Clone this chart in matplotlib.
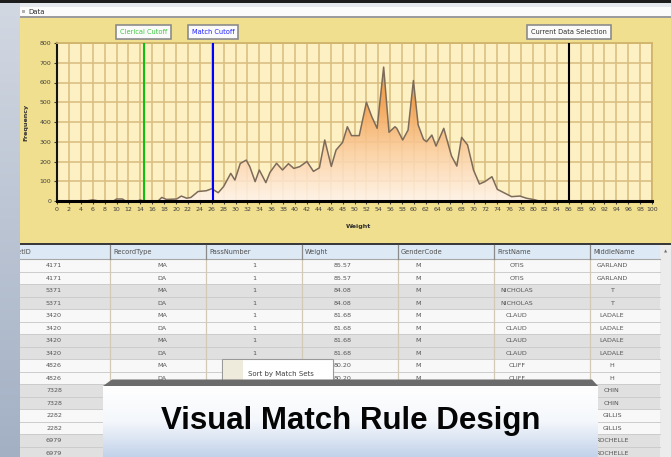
import numpy as np
import matplotlib
matplotlib.use("Agg")
import matplotlib.pyplot as plt
import matplotlib.transforms as mtransforms
from matplotlib.patches import Rectangle, Polygon
from matplotlib.colors import LinearSegmentedColormap

plt.rcParams['font.family'] = ['DejaVu Sans']

# weight histogram
weight = [0, 5, 6, 7, 9.5, 10, 11, 11.5, 13.5, 14, 14.5, 17, 17.6, 18.4, 20.1, 20.9,
          21.8, 22.5, 23.7, 25.1, 26, 27.1, 28, 29.2, 29.9, 30.8, 31.8, 32.4, 33.3, 34,
          35.1, 35.8, 36.9, 37.9, 38.9, 39.8, 40.8, 42, 43.1, 44.1, 45, 46.1, 46.9, 48,
          48.8, 49.5, 50.8, 52, 52.9, 53.8, 54.9, 55.8, 56.8, 57.1, 58.1, 59, 59.9, 60.7,
          61.6, 62.1, 63, 63.7, 64.4, 65, 66.3, 67.2, 68, 69, 70, 71, 71.9, 73.1, 74,
          75.3, 76.4, 77.8, 78.9, 80.3, 81]
frequency = [0, 0, 6, 0, 0, 10, 10, 0, 0, 5, 0, 0, 18, 8, 10, 25,
             14, 18, 48, 52, 62, 42, 73, 140, 106, 190, 207, 174, 98, 157,
             93, 145, 191, 157, 189, 165, 174, 200, 150, 168, 309, 175, 258, 297,
             376, 331, 331, 500, 427, 368, 678, 348, 376, 368, 309, 359, 610, 385,
             312, 300, 334, 278, 326, 368, 228, 177, 322, 284, 157, 86, 98, 123, 59,
             39, 22, 25, 14, 6, 0]

cutoff_names = ['Clerical Cutoff', 'Match Cutoff', 'Current Data Selection']
cutoff_values = [14.6, 26.2, 86]
cutoff_colors = ['#10c010', '#0000ff', '#000000']
cutoff_text_colors = ['#40c840', '#2020ff', '#303030']

x_ticks = list(range(0, 101, 2))
y_ticks = list(range(0, 801, 100))

# grid rows
columns = ['SetID', 'RecordType', 'PassNumber', 'Weight', 'GenderCode', 'FirstName', 'MiddleName']
set_ids = ['4171', '4171', '5371', '5371', '3420', '3420', '3420', '3420',
           '4826', '4826', '7328', '7328', '2282', '2282', '6979', '6979']
record_types = ['MA', 'DA', 'MA', 'DA', 'MA', 'DA', 'MA', 'DA', 'MA', 'DA', '', '', '', '', '', '']
pass_numbers = ['1', '1', '1', '1', '1', '1', '1', '1', '1', '1', '', '', '', '', '', '']
weights_tbl = ['85.57', '85.57', '84.08', '84.08', '81.68', '81.68', '81.68', '81.68',
               '80.20', '80.20', '', '', '', '', '', '']
gender_codes = ['M', 'M', 'M', 'M', 'M', 'M', 'M', 'M', 'M', 'M', '', '', '', '', '', '']
first_names = ['OTIS', 'OTIS', 'NICHOLAS', 'NICHOLAS', 'CLAUD', 'CLAUD', 'CLAUD', 'CLAUD',
               'CLIFF', 'CLIFF', '', '', '', '', '', '']
middle_names = ['GARLAND', 'GARLAND', 'T', 'T', 'LADALE', 'LADALE', 'LADALE', 'LADALE',
                'H', 'H', 'CHIN', 'CHIN', 'GILLIS', 'GILLIS', 'ROCHELLE', 'ROCHELLE']

W, H = 671, 457
fig = plt.figure(figsize=(W / 100, H / 100), dpi=100)
fig.patch.set_facecolor('#dfe3ea')

# background "window" drawn in pixel coordinates
bg = fig.add_axes([0, 0, 1, 1])
bg.axis('off')


def box(x0, y0, x1, y1, fc, ec='none', lw=0, z=1):
    bg.add_patch(Rectangle((x0, y0), x1 - x0, y1 - y0, fc=fc, ec=ec, lw=lw, zorder=z))


grad = np.linspace(0, 1, 200).reshape(-1, 1)
side_cmap = LinearSegmentedColormap.from_list('side', ['#d2d8e2', '#a3b0c4'])
bg.imshow(grad, extent=(0, 20, H, 3), cmap=side_cmap, aspect='auto', zorder=8)

box(0, 0, W, 3, '#1c1c1c', z=9)
box(20, 3, W, 7, '#e4e7ec')
box(20, 7, W, 16, '#fbfbfb')
box(20, 16, W, 18, '#9c9c9c')
box(22, 10, 25, 13, '#b0b0b0')
bg.text(28, 11.8, 'Data', fontsize=5, color='#303030', va='center', ha='left')

box(20, 18, W, 243, '#f0df8e')
box(20, 243, W, 245, '#3a3a3a')

# table
col_edges = [-2, 110, 206, 302, 398, 494, 590, 660]
head_x = [14, 113, 209, 305, 401, 497, 593]
col_centers = [54, 162, 254, 343, 418, 517, 612]
box(20, 245, 660, H, '#ffffff')
box(20, 245, 660, 259, '#dde9f4')
bg.plot([20, 660], [259, 259], color='#a8a8a8', lw=0.8, zorder=3)
for i, name in enumerate(columns):
    bg.text(head_x[i], 252, name, fontsize=4.8, color='#505050', va='center', ha='left', zorder=4)
for e in col_edges[1:-1]:
    bg.plot([e, e], [245, 259], color='#8a8a8a', lw=0.9, zorder=3)

row_h = 12.5
table_cols = [set_ids, record_types, pass_numbers, weights_tbl, gender_codes, first_names, middle_names]
for r in range(len(set_ids)):
    top = 259 + r * row_h
    fc = '#f8f8f8' if (r // 2) % 2 == 0 else '#e0e0e0'
    box(20, top, 660, top + row_h, fc)
    bg.plot([20, 660], [top + row_h, top + row_h], color='#cccccc', lw=0.7, zorder=2)
    for c, vals in enumerate(table_cols):
        bg.text(col_centers[c], top + row_h / 2 + 0.5, vals[r], fontsize=4.6,
                color='#555555', ha='center', va='center', zorder=4)
for e in col_edges[1:-1]:
    bg.plot([e, e], [259, H], color='#d2cab6', lw=0.9, zorder=2)

box(660, 245, W, H, '#ececec')
bg.text(665.5, 251.5, '\u25b2', fontsize=3, color='#707070', ha='center', va='center')

# context menu
box(222, 359, 333, 382, '#ffffff', ec='#9a9a9a', lw=0.8, z=5)
box(222.5, 359.5, 243, 382, '#efebdc', z=5)
bg.text(248, 374, 'Sort by Match Sets', fontsize=5, color='#404040', va='center', ha='left', zorder=6)

# caption banner
bg.add_patch(Polygon([(103, 386), (112, 379.5), (592, 379.5), (598, 386)], closed=True,
                     fc='#6c6c6c', ec='none', zorder=10))
ban_cmap = LinearSegmentedColormap.from_list('ban', ['#ffffff', '#f4f7fb', '#c2d2ea'])
bg.imshow(grad, extent=(103, 598, H, 386), cmap=ban_cmap, aspect='auto', zorder=10)
bg.text(350.5, 429.3, 'Visual Match Rule Design', fontsize=22.5, fontweight='bold',
        family=['Liberation Sans', 'DejaVu Sans'], color='#050505', ha='center', va='baseline', zorder=11)

bg.set_xlim(0, W)
bg.set_ylim(H, 0)

# chart
ax = fig.add_axes([57 / W, (H - 201) / H, 595 / W, 158 / H])
ax.set_facecolor('#fdf0c3')
ax.set_xlim(0, 100)
ax.set_ylim(0, 800)
ax.set_xticks(x_ticks)
ax.set_yticks(y_ticks)
ax.grid(True, color='#d9bf84', lw=1.2, zorder=0)
ax.set_axisbelow(True)

fill_cmap = LinearSegmentedColormap.from_list('fill', ['#fff4ec', '#fbd0a4', '#f3a050', '#ec8a30'])
img = ax.imshow(grad, extent=(0, 100, 0, 720), origin='lower', cmap=fill_cmap,
                aspect='auto', alpha=0.88, zorder=2)
verts = [(weight[0], 0)] + list(zip(weight, frequency)) + [(weight[-1], 0)]
clip = Polygon(verts, closed=True, transform=ax.transData, fc='none', ec='none')
ax.add_patch(clip)
img.set_clip_path(clip)
ax.plot(weight, frequency, color='#7d6b5a', lw=1.1, zorder=3)
ax.set_xlim(0, 100)
ax.set_ylim(0, 800)

trans = mtransforms.blended_transform_factory(ax.transData, ax.transAxes)
for name, val, col, tcol in zip(cutoff_names, cutoff_values, cutoff_colors, cutoff_text_colors):
    ax.axvline(val, color=col, lw=1.5, zorder=4)
    ax.text(val, 1.07, name, transform=trans, fontsize=4.8, color=tcol, ha='center', va='center',
            clip_on=False, bbox=dict(boxstyle='square,pad=0.6', fc='#fafafa', ec='#8c8c8c', lw=1.2))

for s in ['top', 'right']:
    ax.spines[s].set_color('#d0b46c')
    ax.spines[s].set_linewidth(1.3)
ax.spines['left'].set_color('#141414')
ax.spines['left'].set_linewidth(1.5)
ax.spines['bottom'].set_color('#000000')
ax.spines['bottom'].set_linewidth(2.2)
ax.spines['bottom'].set_zorder(5)
ax.tick_params(labelsize=4.5, length=2.5, width=0.8, pad=1.5, colors='#404040')

ax.set_ylabel('Frequency', fontsize=4.6, fontweight='bold', color='#303030')
ax.yaxis.set_label_coords(-(57 - 28) / 595, 0.5)
ax.set_xlabel('Weight', fontsize=4.6, fontweight='bold', color='#303030')
ax.xaxis.set_label_coords((358 - 57) / 595, -(224 - 201) / 158)

fig.savefig('out.png', dpi=100)
